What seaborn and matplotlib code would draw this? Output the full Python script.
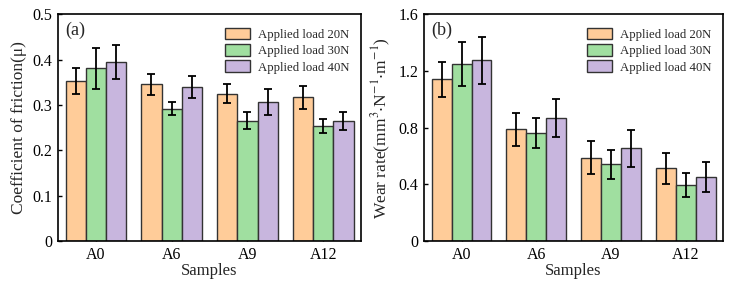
import numpy as np
import pandas as pd
import matplotlib
matplotlib.use("Agg")
import matplotlib.pyplot as plt
import seaborn as sns

samples = ["A0", "A6", "A9", "A12"]
loads = ["Applied load 20N", "Applied load 30N", "Applied load 40N"]

cof_20 = [0.353, 0.345, 0.325, 0.317]
cof_30 = [0.381, 0.292, 0.265, 0.253]
cof_40 = [0.395, 0.339, 0.306, 0.265]
cof_err_20 = [0.028, 0.023, 0.020, 0.025]
cof_err_30 = [0.045, 0.015, 0.019, 0.015]
cof_err_40 = [0.038, 0.024, 0.028, 0.020]

wr_20 = [1.140, 0.787, 0.589, 0.514]
wr_30 = [1.246, 0.763, 0.540, 0.396]
wr_40 = [1.275, 0.869, 0.653, 0.450]
wr_err_20 = [0.125, 0.118, 0.115, 0.110]
wr_err_30 = [0.156, 0.108, 0.103, 0.087]
wr_err_40 = [0.166, 0.132, 0.131, 0.104]

colors = ["#FFCC99", "#A0DFA0", "#C8B6DE"]

sns.set_theme(style="ticks")
plt.rcParams["font.family"] = ["Liberation Serif", "DejaVu Serif"]
plt.rcParams["mathtext.fontset"] = "stix"

def make_df(v20, v30, v40, e20, e30, e40):
    rows = []
    for vals, errs, load in [(v20, e20, loads[0]), (v30, e30, loads[1]), (v40, e40, loads[2])]:
        for s, v, e in zip(samples, vals, errs):
            rows.append({"Sample": s, "Load": load, "Value": v, "Err": e})
    return pd.DataFrame(rows)

df_a = make_df(cof_20, cof_30, cof_40, cof_err_20, cof_err_30, cof_err_40)
df_b = make_df(wr_20, wr_30, wr_40, wr_err_20, wr_err_30, wr_err_40)

fig = plt.figure(figsize=(7.34, 2.88), dpi=100)
ax1 = fig.add_axes([0.079, 0.163, 0.413, 0.788])
ax2 = fig.add_axes([0.578, 0.163, 0.407, 0.788])

def draw(ax, df, ylim, yticks, yticklabels, ylabel, tag):
    sns.barplot(data=df, x="Sample", y="Value", hue="Load", order=samples,
                hue_order=loads, palette=colors, errorbar=None, width=0.8,
                edgecolor="#333333", linewidth=1.0, saturation=1, ax=ax)
    # error bars from the bars drawn by seaborn
    for cont, load in zip(ax.containers, loads):
        sub = df[df["Load"] == load].set_index("Sample").loc[samples]
        xs = [p.get_x() + p.get_width() / 2 for p in cont.patches]
        ys = [p.get_height() for p in cont.patches]
        ax.errorbar(xs, ys, yerr=sub["Err"].values, fmt="none", ecolor="black",
                    elinewidth=1.3, capsize=3, capthick=1.3, zorder=5)
    ax.set_xlim(-0.5, 3.5)
    ax.set_ylim(*ylim)
    ax.set_yticks(yticks)
    ax.set_yticklabels(yticklabels)
    ax.set_xlabel("Samples", fontsize=12, labelpad=0)
    ax.set_ylabel(ylabel, fontsize=12.5, labelpad=4)
    ax.tick_params(direction="in", length=3, width=1, labelsize=11.5, colors="black", pad=4)
    for sp in ax.spines.values():
        sp.set_linewidth(1.2)
        sp.set_color("black")
    ax.text(0.025, 0.965, tag, transform=ax.transAxes, fontsize=13, va="top", ha="left")
    ax.legend(loc="upper right", frameon=False, fontsize=9.2, handlelength=2.0,
              handleheight=1.0, handletextpad=0.6, labelspacing=0.25,
              borderaxespad=0.5, bbox_to_anchor=(1.0, 0.99))

draw(ax1, df_a, (0, 0.5), [0, 0.1, 0.2, 0.3, 0.4, 0.5],
     ["0", "0.1", "0.2", "0.3", "0.4", "0.5"], "Coefficient of friction(μ)", "(a)")
draw(ax2, df_b, (0, 1.6), [0, 0.4, 0.8, 1.2, 1.6],
     ["0", "0.4", "0.8", "1.2", "1.6"],
     r"Wear rate(mm$^{3}$$\cdot$N$^{-1}$$\cdot$m$^{-1}$)", "(b)")

fig.savefig("out.png", dpi=100)
